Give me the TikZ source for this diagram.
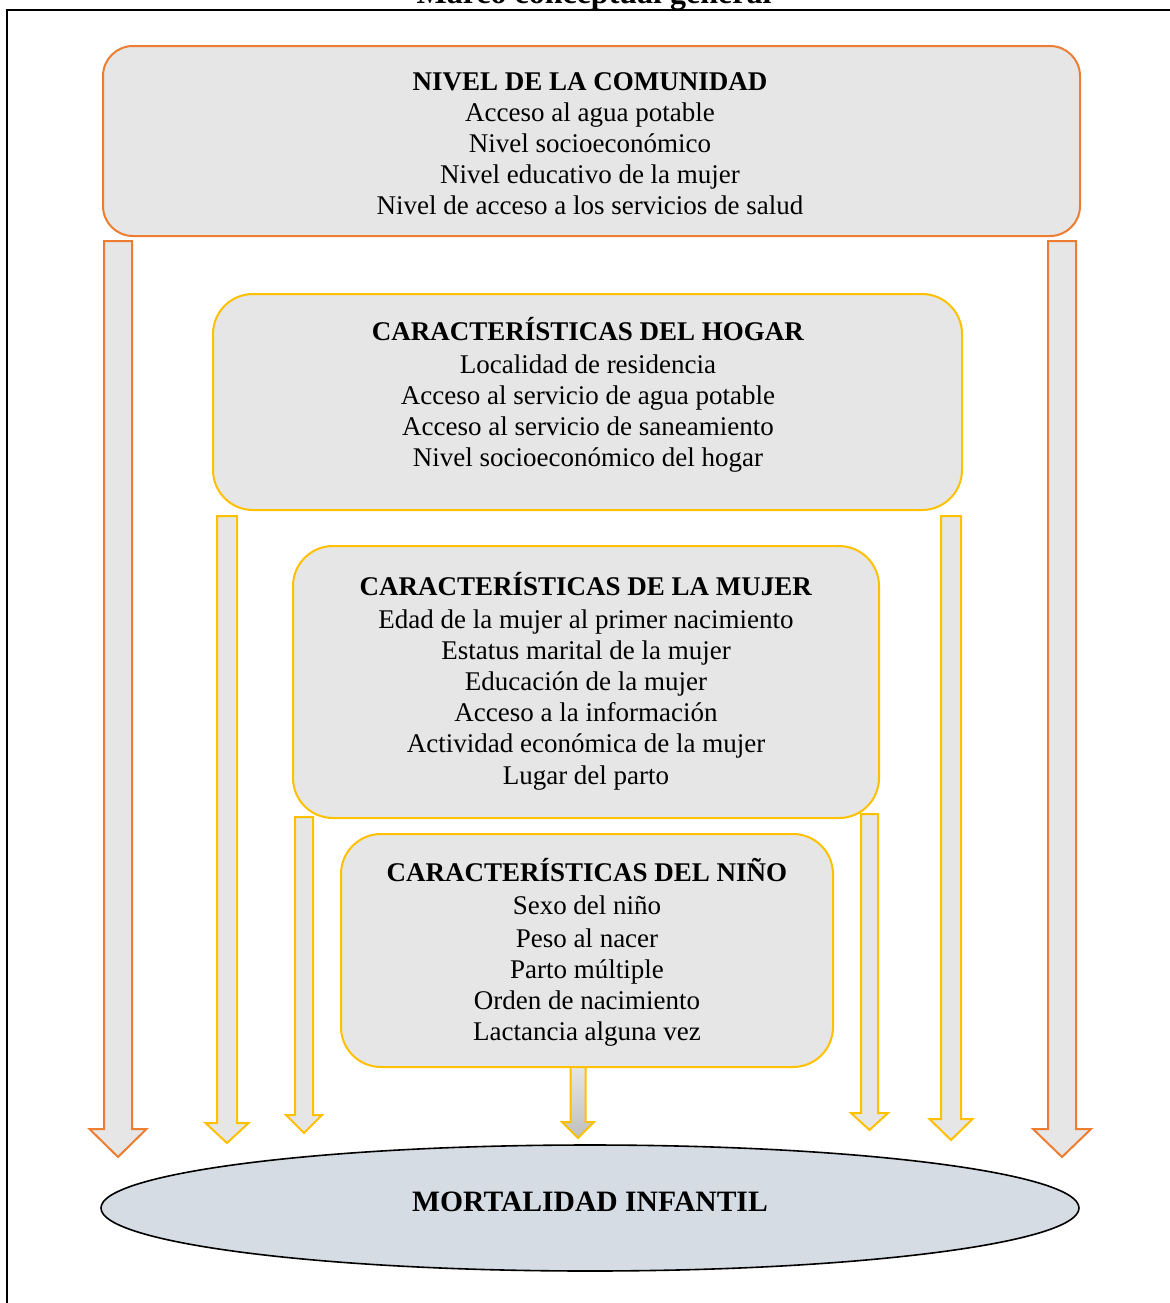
\documentclass[tikz,border=0pt]{standalone}
\usepackage{fontspec}
\setmainfont{Liberation Serif}
\usetikzlibrary{shapes.geometric}
\definecolor{naranja}{HTML}{ED7D31}
\definecolor{dorado}{HTML}{FFC000}
\definecolor{grisclaro}{HTML}{E6E6E6}
\definecolor{grisflecha}{HTML}{E7E6E6}
\definecolor{grisoscuro}{HTML}{BFBFBF}
\definecolor{azulgris}{HTML}{D6DCE4}
\tikzset{
	caja/.style = {
		draw = dorado,
		fill = grisclaro,
		rectangle,
		line width = 1pt,
		rounded corners = 20pt,
		inner sep = 0pt
	},
	texto/.style = {
		align = center,
		anchor = north,
		inner sep = 0pt,
		font = \fontsize{13.5}{15.5}\selectfont
	},
	flecha/.style = {
		draw = dorado,
		fill = grisflecha,
		line width = 1pt,
		line join = miter
	}
}
% flecha de bloque: centro x, arriba, medio cuerpo, media punta, base de la punta, punta
\newcommand\bloque[7][]{%
	\draw [flecha, #1] ({#2-#4},#3) -- ({#2+#4},#3) -- ({#2+#4},#6) -- ({#2+#5},#6)
		-- (#2,#7) -- ({#2-#5},#6) -- ({#2-#4},#6) -- cycle ;}

\begin{document}
\begin{tikzpicture}[x=0.5pt, y=-0.5pt]
    \useasboundingbox (0,0) rectangle (1170,1303) ;
    \clip (0,0) rectangle (1170,1303) ;

    % marco y titulo
    \draw [line width=1.2pt] (7,1320) -- (7,10) -- (1190,10) ;
    \node [anchor=base, inner sep=0pt, font=\bfseries\fontsize{16}{18}\selectfont] (titulo) at (594,3) {Marco conceptual general} ;

    % cajas
    \node [caja, draw=naranja, rounded corners=15pt, minimum width=488.5pt, minimum height=95pt] (comunidad) at (591.5,141) {} ;
    \node [caja, minimum width=374.5pt, minimum height=108pt] (hogar) at (587.5,402) {} ;
    \node [caja, minimum width=293pt, minimum height=136pt] (mujer) at (586,682) {} ;
    \node [caja, minimum width=246pt, minimum height=116.5pt] (nino) at (587,950.5) {} ;

    \node [texto] (comunidad-texto) at (590,68.3) {\strut\textbf{NIVEL DE LA COMUNIDAD}\\
        Acceso al agua potable\\ Nivel socioeconómico\\ Nivel educativo de la mujer\\
        Nivel de acceso a los servicios de salud} ;
    \node [texto] (hogar-texto) at (588,316.8) {\strut\textbf{CARACTERÍSTICAS DEL HOGAR}\\[1pt]
        Localidad de residencia\\ Acceso al servicio de agua potable\\
        Acceso al servicio de saneamiento\\ Nivel socioeconómico del hogar} ;
    \node [texto] (mujer-texto) at (586,571.8) {\strut\textbf{CARACTERÍSTICAS DE LA MUJER}\\[1pt]
        Edad de la mujer al primer nacimiento\\ Estatus marital de la mujer\\
        Educación de la mujer\\ Acceso a la información\\
        Actividad económica de la mujer\\[0.5pt] Lugar del parto} ;
    \node [texto] (nino-texto) at (587,857.8) {\strut\textbf{CARACTERÍSTICAS DEL NIÑO}\\[1pt]
        Sexo del niño\\[0.8pt] Peso al nacer\\ Parto múltiple\\
        Orden de nacimiento\\ Lactancia alguna vez} ;

    % flechas
    \bloque[draw=naranja]{118}{241}{14}{28.5}{1129}{1157}
    \bloque{227}{516}{10}{21.5}{1123}{1143}
    \bloque{304}{817}{9}{18}{1115}{1133}
    \bloque[shade, top color=grisflecha, bottom color=grisoscuro]{578}{1067}{7.5}{16}{1122}{1138}
    \bloque{869.5}{814}{8.5}{18.5}{1113}{1130}
    \bloque{951}{516}{10}{21.5}{1119}{1140}
    \bloque[draw=naranja]{1062}{241}{14}{29}{1129}{1157}

    % resultado
    \node [ellipse, draw, fill=azulgris, line width=0.8pt, minimum width=489pt, minimum height=63pt,
        font=\bfseries\fontsize{14.8}{17}\selectfont] (mortalidad) at (590,1208) {\raisebox{6pt}{MORTALIDAD INFANTIL}} ;
\end{tikzpicture}
\end{document}
